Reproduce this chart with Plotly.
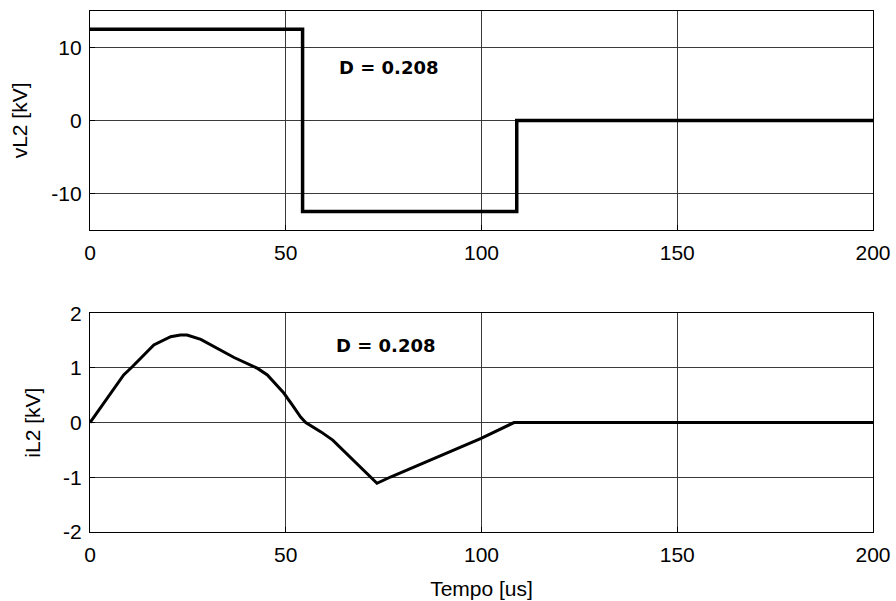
import plotly.graph_objects as go

# tensione sull'induttore L2 (kV) vs tempo (us)
t_v = [0, 54.3, 54.3, 109.0, 109.0, 200]
v_l2 = [12.5, 12.5, -12.5, -12.5, 0, 0]

# corrente sull'induttore L2
t_i = [0, 4.4, 8.6, 10.8, 16.3, 20.6, 23.1, 24.8, 28.3, 36.8, 42.8, 45.3, 49.5,
       51.7, 53.8, 55.1, 59.0, 62.0, 73.3, 76.9, 99.9, 108.3, 200]
i_l2 = [0, 0.44, 0.87, 1.02, 1.42, 1.57, 1.60, 1.60, 1.52, 1.19, 0.99, 0.87, 0.54,
        0.32, 0.10, 0.0, -0.17, -0.32, -1.11, -0.99, -0.29, 0, 0]

x_ticks = [0, 50, 100, 150, 200]
v_ticks = [-10, 0, 10]
i_ticks = [-2, -1, 0, 1, 2]

duty_label = 'D = 0.208'

font = 'Liberation Sans, Arial, sans-serif'
fs = 21

fig = go.Figure()
fig.add_trace(go.Scatter(x=t_v, y=v_l2, mode='lines', line=dict(color='black', width=3.5),
                         xaxis='x', yaxis='y', showlegend=False))
fig.add_trace(go.Scatter(x=t_i, y=i_l2, mode='lines', line=dict(color='black', width=3),
                         xaxis='x2', yaxis='y2', showlegend=False))

ax = dict(showline=True, linecolor='black', linewidth=1.2, mirror=True,
          showgrid=True, gridcolor='#3a3a3a', gridwidth=1, zeroline=False,
          ticks='inside', ticklen=5, tickcolor='black', automargin=False,
          tickfont=dict(family=font, size=fs, color='black'))

def labels(vals):
    return [str(v) for v in vals]  # trattino normale, non il meno unicode

fig.update_layout(
    width=896, height=601,
    paper_bgcolor='white', plot_bgcolor='white',
    margin=dict(l=90, r=23, t=11, b=69),
    font=dict(family=font, color='black'),
    xaxis=dict(ax, domain=[0, 1], range=[0, 200], tickvals=x_ticks, ticktext=labels(x_ticks),
               anchor='y', ticklabelstandoff=4),
    yaxis=dict(ax, domain=[0.58, 1], range=[-15, 15], tickvals=v_ticks, ticktext=labels(v_ticks),
               anchor='x', ticklabelstandoff=3,
               title=dict(text='vL2 [kV]', font=dict(family=font, size=fs), standoff=17)),
    xaxis2=dict(ax, domain=[0, 1], range=[0, 200], tickvals=x_ticks, ticktext=labels(x_ticks),
                anchor='y2', ticklabelstandoff=4,
                title=dict(text='Tempo [us]', font=dict(family=font, size=fs), standoff=16)),
    yaxis2=dict(ax, domain=[0, 0.42], range=[-2, 2], tickvals=i_ticks, ticktext=labels(i_ticks),
                anchor='x2', ticklabelstandoff=3,
                title=dict(text='iL2 [kV]', font=dict(family=font, size=fs), standoff=16)),
    annotations=[
        dict(x=76.3, y=7.2, xref='x', yref='y', text='<b>' + duty_label + '</b>', showarrow=False,
             font=dict(family='DejaVu Sans', size=18, color='black')),
        dict(x=75.6, y=1.41, xref='x2', yref='y2', text='<b>' + duty_label + '</b>', showarrow=False,
             font=dict(family='DejaVu Sans', size=18, color='black')),
    ],
)

# niente margine di default del body, il grafico parte da (0, 0)
fig.write_html('out.html', config={'displayModeBar': False},
               post_script="document.body.style.margin='0';")
